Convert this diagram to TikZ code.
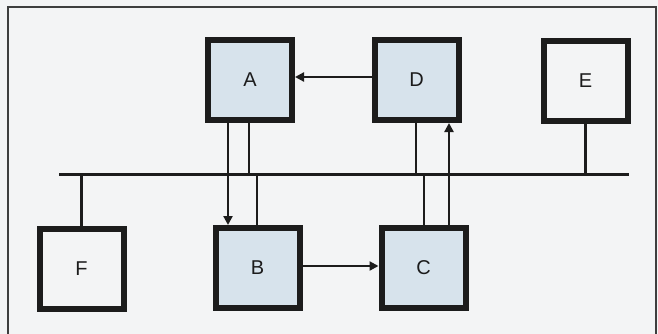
\documentclass[tikz,border=0pt]{standalone}
\usepackage{fontspec}
\setmainfont{Liberation Sans}
\usetikzlibrary{arrows.meta}
\definecolor{bg}{HTML}{F3F4F5}
\definecolor{boxblue}{HTML}{D7E3EC}
\definecolor{ink}{HTML}{1C1C1C}
\tikzset{
  unit/.style={draw=ink, line width=6pt, inner sep=0pt, minimum width=84pt, minimum height=80pt, font=\fontsize{20}{20}\selectfont, text=ink},
  blueunit/.style={unit, fill=boxblue},
  whiteunit/.style={unit, fill=bg},
  link/.style={draw=ink, line width=2.2pt},
  flow/.style={link, -{Triangle[length=9pt,width=9pt]}},
  busline/.style={draw=ink, line width=3pt},
  frameline/.style={draw=ink!85, line width=1.4pt}
}
\begin{document}
\begin{tikzpicture}[x=1pt,y=-1pt]
\useasboundingbox (0,0) rectangle (658,334);
\fill[bg] (0,0) rectangle (658,334);
% frame
\draw[frameline] (8,334) -- (8,7) -- (656,7) -- (656,334);
% nodes
\node[blueunit]  (A) at (250,80) {A};
\node[blueunit]  (D) at (416.5,80) {D};
\node[whiteunit] (E) at (585.5,81) {E};
\node[whiteunit] (F) at (81.5,268.5) {F};
\node[blueunit]  (B) at (257.5,268) {B};
\node[blueunit]  (C) at (423.5,268) {C};
% bus
\coordinate (busL) at (59,174);
\coordinate (busR) at (629,174);
\draw[busline] (busL) -- (busR);
% stubs to bus
\draw[link] (A.south -| 249,0) -- (249,0 |- busL);
\draw[link] (B.north -| 257,0) -- (257,0 |- busL);
\draw[link] (D.south -| 416,0) -- (416,0 |- busL);
\draw[link] (C.north -| 424,0) -- (424,0 |- busL);
\draw[link] (E.south) -- (E.south |- busL);
\draw[link] (F.north) -- (F.north |- busL);
% flows
\draw[flow] (A.south -| 228,0) -- (B.north -| 228,0);
\draw[flow] (C.north -| 449,0) -- (D.south -| 449,0);
\draw[flow] (D.west |- 0,77) -- (A.east |- 0,77);
\draw[flow] (B.east |- 0,266) -- (C.west |- 0,266);
\end{tikzpicture}
\end{document}
